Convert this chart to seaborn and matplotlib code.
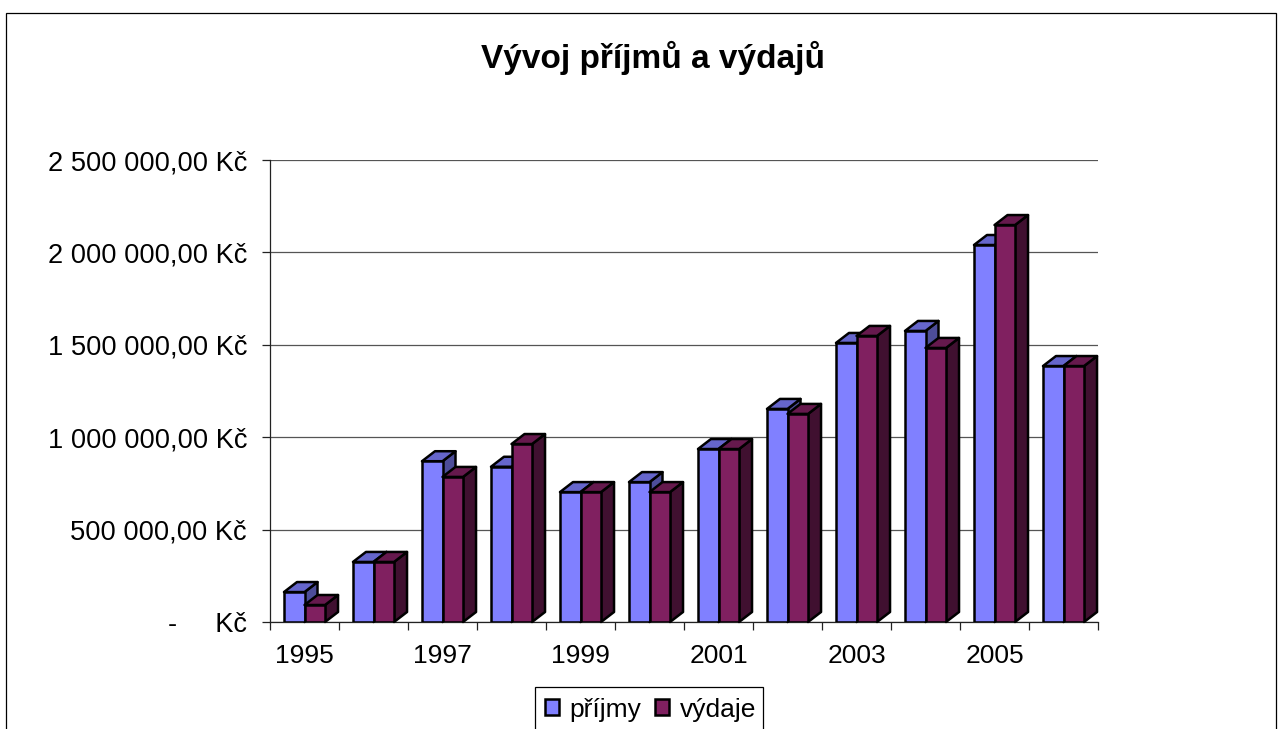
import matplotlib
matplotlib.use("Agg")
import matplotlib.pyplot as plt
from matplotlib.patches import Polygon, Rectangle
import pandas as pd
import seaborn as sns

years = ["1995","1996","1997","1998","1999","2000","2001","2002","2003","2004","2005","2006"]
prijmy = [162000,325000,870000,840000,703000,757000,936000,1153000,1510000,1575000,2040000,1385000]
vydaje = [92000,325000,785000,963000,703000,703000,936000,1126000,1548000,1483000,2148000,1385000]
y_ticks = [0,500000,1000000,1500000,2000000,2500000]
y_labels = ["-     Kč","500 000,00 Kč","1 000 000,00 Kč","1 500 000,00 Kč","2 000 000,00 Kč","2 500 000,00 Kč"]
title = "Vývoj příjmů a výdajů"

W, H = 1282, 729
sns.set_theme(style="white")
plt.rcParams["font.family"] = ["Liberation Sans", "DejaVu Sans"]

df = pd.DataFrame({
    "rok": years * 2,
    "hodnota": prijmy + vydaje,
    "serie": ["příjmy"] * len(years) + ["výdaje"] * len(years),
})

fig = plt.figure(figsize=(W/100, H/100), dpi=100, facecolor="white")
ax = fig.add_axes([270/W, 1-622/H, 828/W, 462/H])
front = {"příjmy": "#8080FF", "výdaje": "#802060"}
sns.barplot(data=df, x="rok", y="hodnota", hue="serie", palette=front, saturation=1,
            width=0.595, dodge=True, gap=0, errorbar=None, ax=ax,
            edgecolor="black", linewidth=1.8, zorder=3)

ax.set_xlim(-0.5, 11.5)
ax.set_ylim(0, 2500000)
dx = 13/69
dy = 10/462*2500000
shades = [("#6666CC", "#4D4D99"), ("#66194D", "#401030")]
for i, cont in enumerate(ax.containers):
    top_c, side_c = shades[i]
    base_z = 3 + i
    for bar in cont:
        bar.set_zorder(base_z + 0.5)
        x0, x1 = bar.get_x(), bar.get_x() + bar.get_width()
        h = bar.get_height()
        ax.add_patch(Polygon([(x1,0),(x1+dx,dy),(x1+dx,h+dy),(x1,h)], closed=True, facecolor=side_c,
                             edgecolor="black", linewidth=1.8, zorder=base_z, clip_on=False, joinstyle="round"))
        ax.add_patch(Polygon([(x0,h),(x0+dx,h+dy),(x1+dx,h+dy),(x1,h)], closed=True, facecolor=top_c,
                             edgecolor="black", linewidth=1.8, zorder=base_z, clip_on=False, joinstyle="round"))

ax.set_axisbelow(True)
ax.set_yticks(y_ticks)
ax.set_yticklabels(y_labels, fontsize=19.6, color="black")
ax.yaxis.grid(True, color="#555555", linewidth=0.9)
ax.xaxis.grid(False)
ax.set_xticks(range(0, len(years), 2))
ax.set_xticklabels(years[::2], fontsize=19, color="black")
ax.set_xticks([i - 0.5 for i in range(len(years) + 1)], minor=True)
ax.tick_params(axis="x", which="major", length=0, pad=15.5)
ax.tick_params(axis="x", which="minor", length=6, width=0.9, color="#222222", bottom=True)
ax.tick_params(axis="y", length=6, width=0.9, color="#222222", pad=10.5, left=True)
ax.set_xlabel(""); ax.set_ylabel("")
for s in ("top", "right"):
    ax.spines[s].set_visible(False)
for s in ("left", "bottom"):
    ax.spines[s].set_color("#222222")
    ax.spines[s].set_linewidth(0.9)

fig.add_artist(Rectangle((6/W, -20/H), 1270/W, (H-13+20)/H, transform=fig.transFigure,
                         fill=False, edgecolor="black", linewidth=0.9))
fig.text(653/W, 1-58/H, title, ha="center", va="center", fontsize=24, fontweight="bold", color="black")

ax.add_patch(Rectangle((535/W, -20/H), 228/W, (H-687+20)/H, transform=fig.transFigure,
                       facecolor="white", edgecolor="black", linewidth=0.9, clip_on=False, zorder=9))
leg = ax.legend(loc="upper left", bbox_to_anchor=(545/W, 1-697.5/H), bbox_transform=fig.transFigure,
                ncol=2, fontsize=19, frameon=False,
                handlelength=0.54, handleheight=0.54, handletextpad=0.4, columnspacing=0.5,
                borderpad=0, borderaxespad=0, title=None, labelcolor="black")
leg.set_zorder(10)
fig.savefig("out.png", dpi=100, facecolor="white")
